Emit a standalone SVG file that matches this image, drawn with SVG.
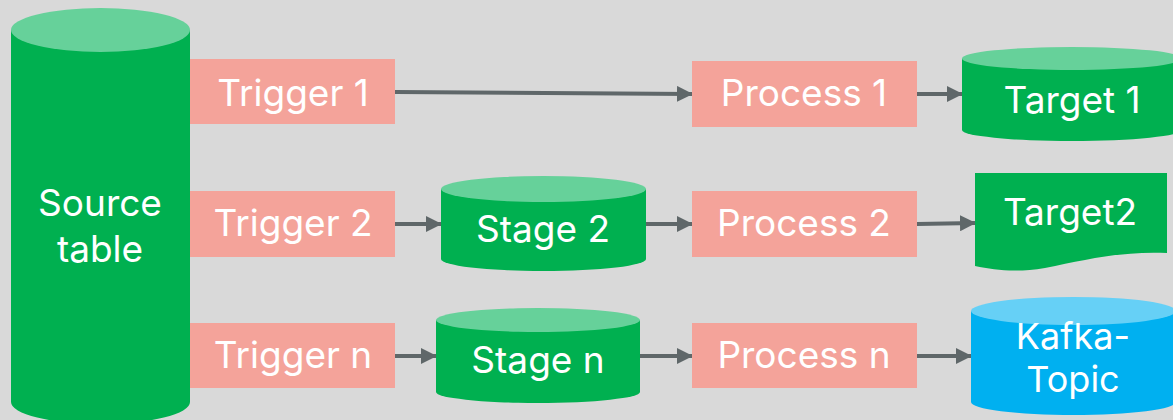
<svg xmlns="http://www.w3.org/2000/svg" width="1173" height="420" viewBox="0 0 1173 420">
  <style>
    .txt { font-family: Inter, "Liberation Sans", sans-serif; font-size: 37px; fill: #ffffff; text-anchor: middle; }
    .small { font-size: 36px; }
    .box { fill: #f4a39a; }
    .body { fill: #00b050; }
    .lid { fill: #66d19a; }
    .kbody { fill: #00b0f0; }
    .klid { fill: #66d0f6; }
    .edge { stroke: #5f6769; stroke-width: 4; fill: none; marker-end: url(#arrow); }
  </style>
  <defs>
    <marker id="arrow" viewBox="0 0 16 16" refX="15" refY="8" markerWidth="16" markerHeight="16" markerUnits="userSpaceOnUse" orient="auto">
      <path d="M0,0 L16,8 L0,16 Z" fill="#5f6769"/>
    </marker>
  </defs>
  <rect width="1173" height="420" fill="#d9d9d9"/>

  <g id="connectors">
    <path class="edge" d="M395,92 L692,94"/>
    <path class="edge" d="M917,94 L962,94"/>
    <path class="edge" d="M395,224 L441,224"/>
    <path class="edge" d="M646,224 L692,224"/>
    <path class="edge" d="M917,224 L975,223"/>
    <path class="edge" d="M395,356 L436,356"/>
    <path class="edge" d="M640,356 L692,356"/>
    <path class="edge" d="M917,356 L971,356"/>
  </g>

  <g id="source-table">
    <path class="body" d="M11,30 V402 A89.5,22 0 0 0 190,402 V30 Z"/>
    <ellipse class="lid" cx="100.5" cy="30" rx="89.5" ry="22"/>
    <text class="txt" x="100" y="216">Source</text>
    <text class="txt" x="100" y="262">table</text>
  </g>

  <g id="trigger-1">
    <rect class="box" x="190" y="59" width="205" height="65"/>
    <text class="txt" x="293" y="106">Trigger 1</text>
  </g>
  <g id="trigger-2">
    <rect class="box" x="190" y="191" width="205" height="66"/>
    <text class="txt" x="293" y="236">Trigger 2</text>
  </g>
  <g id="trigger-n">
    <rect class="box" x="190" y="323" width="205" height="65"/>
    <text class="txt" x="293" y="368">Trigger n</text>
  </g>

  <g id="stage-2">
    <path class="body" d="M441,189 V259 A102.5,12 0 0 0 646,259 V189 Z"/>
    <ellipse class="lid" cx="543.5" cy="189" rx="102.5" ry="13"/>
    <text class="txt" x="543" y="242">Stage 2</text>
  </g>
  <g id="stage-n">
    <path class="body" d="M436,320 V392 A102,11 0 0 0 640,392 V320 Z"/>
    <ellipse class="lid" cx="538" cy="320" rx="102" ry="12"/>
    <text class="txt" x="538" y="373">Stage n</text>
  </g>

  <g id="process-1">
    <rect class="box" x="692" y="61" width="225" height="66"/>
    <text class="txt" x="804" y="106">Process 1</text>
  </g>
  <g id="process-2">
    <rect class="box" x="692" y="191" width="225" height="66"/>
    <text class="txt" x="804" y="236">Process 2</text>
  </g>
  <g id="process-n">
    <rect class="box" x="692" y="323" width="225" height="65"/>
    <text class="txt" x="804" y="368">Process n</text>
  </g>

  <g id="target-1">
    <path class="body" d="M962,58.5 V130 A110,11 0 0 0 1182,130 V58.5 Z"/>
    <ellipse class="lid" cx="1072" cy="58.5" rx="110" ry="11.5"/>
    <text class="txt" x="1072" y="113">Target 1</text>
  </g>
  <g id="target-2">
    <path class="body" d="M975,173 H1167 V253 C1120,251 1085,260 1045,268 C1015,273 995,270 975,266 Z"/>
    <text class="txt" x="1070" y="225">Target2</text>
  </g>
  <g id="kafka-topic">
    <path class="kbody" d="M971,311 V402 A102.5,13 0 0 0 1176,402 V311 Z"/>
    <ellipse class="klid" cx="1073.5" cy="311" rx="102.5" ry="14"/>
    <text class="txt small" x="1073" y="349">Kafka-</text>
    <text class="txt small" x="1073" y="392">Topic</text>
  </g>
</svg>
